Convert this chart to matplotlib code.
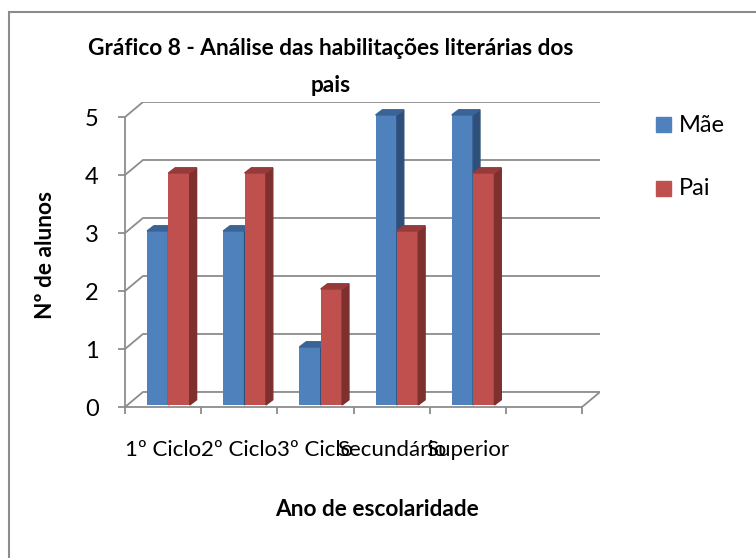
import matplotlib.pyplot as plt
from matplotlib.patches import Polygon, Rectangle

categorias = ["1º Ciclo", "2º Ciclo", "3º Ciclo", "Secundário", "Superior"]
mae = [3, 3, 1, 5, 5]
pai = [4, 4, 2, 3, 4]
n_slots = 6  # o Excel deixou uma posição vazia no fim

plt.rcParams['font.family'] = ['Lato', 'DejaVu Sans']

fig = plt.figure(figsize=(7.56, 5.58), dpi=100)

# moldura do gráfico (só topo e esquerda ficam visíveis)
fig.patches.append(Rectangle((9 / 756, -0.1), 1.2, (558 - 12) / 558 + 0.1,
                             transform=fig.transFigure, fill=False,
                             edgecolor="#8c8c8c", linewidth=1.5))

# profundidade da parede de fundo (em unidades dos dados)
dx, dy = 0.236, 0.259
ax = fig.add_axes([125 / 756, (558 - 407) / 558, 475 / 756, 305 / 558])
ax.set_xlim(0, n_slots + dx)
ax.set_ylim(0, 5 + dy)
ax.patch.set_visible(False)
grid_c = "#8c8c8c"

# grelha na parede de fundo + ligações ao eixo da frente
for v in range(0, 6):
    ax.plot([0, dx, n_slots + dx], [v, v + dy, v + dy], color=grid_c, lw=1.3, zorder=1)
ax.plot([n_slots, n_slots + dx], [0, dy], color=grid_c, lw=1.3, zorder=1)

for s in ["top", "right"]:
    ax.spines[s].set_visible(False)
ax.spines["left"].set_bounds(0, 5)
ax.spines["bottom"].set_bounds(0, n_slots)
for s in ["left", "bottom"]:
    ax.spines[s].set_color(grid_c)
    ax.spines[s].set_linewidth(1.3)

ax.set_yticks(range(0, 6))
ax.set_yticklabels([str(v) for v in range(0, 6)])
ax.tick_params(axis="y", length=5, color=grid_c, width=1.3, pad=14, labelsize=17)
ax.set_xticks(range(0, n_slots + 1))
ax.set_xticklabels([])
ax.tick_params(axis="x", which="major", length=5, color=grid_c, width=1.3)
ax.set_xticks([i + 0.5 for i in range(len(categorias))], minor=True)
ax.set_xticklabels(categorias, minor=True)
ax.tick_params(axis="x", which="minor", length=0, pad=24, labelsize=16)

# barras 3D
bw = 0.28
bdx, bdy = 0.09, 0.09
oy = 0.035
cores = [("#4F81BD", "#2F4F7B", "#3A6496"), ("#C0504D", "#7D302E", "#963B39")]
for i in range(len(categorias)):
    for j, vals in enumerate([mae, pai]):
        x = i + 0.29 + j * bw
        h = vals[i]
        frente, lado, topo = cores[j]
        ax.bar(x, h, width=bw, bottom=oy, align="edge", color=frente, zorder=3 + i * 3 + j)
        ax.add_patch(Polygon([(x + bw, oy), (x + bw + bdx, oy + bdy),
                              (x + bw + bdx, oy + h + bdy), (x + bw, oy + h)],
                             closed=True, color=lado, zorder=3 + i * 3 + j))
        ax.add_patch(Polygon([(x, oy + h), (x + bdx, oy + h + bdy),
                              (x + bw + bdx, oy + h + bdy), (x + bw, oy + h)],
                             closed=True, color=topo, zorder=3 + i * 3 + j))

# títulos
fig.text(331 / 756, 1 - 55 / 558, "Gráfico 8 - Análise das habilitações literárias dos",
         ha="center", va="baseline", fontsize=16.3, fontweight="bold")
fig.text(331 / 756, 1 - 92 / 558, "pais", ha="center", va="baseline",
         fontsize=16.3, fontweight="bold")
fig.text(377 / 756, 1 - 510 / 558, "Ano de escolaridade", ha="center", va="center",
         fontsize=16.3, fontweight="bold")
fig.text(45 / 756, 1 - 255 / 558, "Nº de alunos", ha="center", va="center",
         rotation=90, fontsize=16.3, fontweight="bold")

# legenda
for k, (nome, c) in enumerate([("Mãe", cores[0][0]), ("Pai", cores[1][0])]):
    yc = 125 + k * 63
    fig.patches.append(Rectangle((656 / 756, 1 - (yc + 7.5) / 558), 15 / 756, 15 / 558,
                                 transform=fig.transFigure, color=c))
    fig.text(679 / 756, 1 - yc / 558, nome, ha="left", va="center", fontsize=17)

fig.savefig("out.png", dpi=100)
